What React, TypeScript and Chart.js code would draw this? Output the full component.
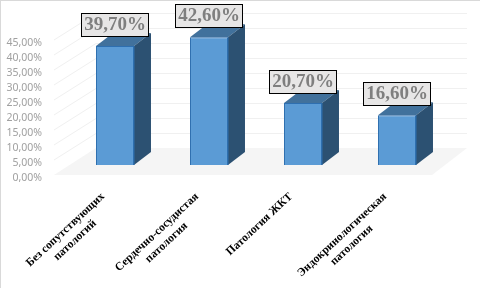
import React, { useEffect, useRef } from "react";
import { Chart, registerables } from "chart.js";

Chart.register(...registerables);

const categories = [
  ["Без сопутствующих", "патологий"],
  ["Сердечно-сосудистая", "патология"],
  ["Патология ЖКТ"],
  ["Эндокринологическая", "патология"],
];
const values = [39.7, 42.6, 20.7, 16.6];
const gridValues = [5, 10, 15, 20, 25, 30, 35, 40, 45];

const FACE = "#5b9bd5";
const EDGE = "#2e6fb0";
const SIDE = "#2c5172";
const TOP = "#41719c";
const DX = 17;
const DY = 13;

const fmt = (v: number) => v.toFixed(2).replace(".", ",") + "%";

const poly = (ctx: CanvasRenderingContext2D, pts: number[][], fill: string, stroke?: string) => {
  ctx.beginPath();
  pts.forEach((p, i) => (i ? ctx.lineTo(p[0], p[1]) : ctx.moveTo(p[0], p[1])));
  ctx.closePath();
  ctx.fillStyle = fill;
  ctx.fill();
  if (stroke) {
    ctx.strokeStyle = stroke;
    ctx.lineWidth = 1;
    ctx.stroke();
  }
};

const scene = {
  id: "scene",
  beforeDraw(chart: any) {
    const { ctx, width, height } = chart;
    ctx.save();
    ctx.fillStyle = "#ffffff";
    ctx.fillRect(0, 0, width, height);
    ctx.fillStyle = "#d9d9d9";
    ctx.fillRect(0, 0, width, 1);
    ctx.fillRect(0, 0, 1, height);
    ctx.restore();
  },
  beforeDatasetsDraw(chart: any) {
    const { ctx, scales } = chart;
    const y = scales.y;
    const base = y.getPixelForValue(0);
    ctx.save();
    poly(ctx, [[54, base + 10], [96, base - 17], [467, base - 17], [432, base + 10]], "#f5f5f5");
    ctx.strokeStyle = "#f0f0f0";
    ctx.lineWidth = 1;
    gridValues.forEach((v) => {
      const p = Math.round(y.getPixelForValue(v));
      ctx.beginPath();
      ctx.moveTo(54, p + 10);
      ctx.lineTo(96, p - 16.5);
      ctx.lineTo(467, p - 16.5);
      ctx.stroke();
    });
    ctx.restore();
  },
  afterDatasetsDraw(chart: any) {
    const { ctx } = chart;
    const bars = chart.getDatasetMeta(0).data;
    ctx.save();
    bars.forEach((b: any) => {
      const l = b.x - b.width / 2;
      const r = b.x + b.width / 2;
      poly(ctx, [[l, b.y], [l + DX, b.y - DY], [r + DX, b.y - DY], [r, b.y]], TOP);
      poly(ctx, [[r, b.y], [r + DX, b.y - DY], [r + DX, b.base - DY], [r, b.base]], SIDE);
      ctx.strokeStyle = EDGE;
      ctx.lineWidth = 1;
      ctx.beginPath();
      ctx.moveTo(r, b.y);
      ctx.lineTo(r, b.base);
      ctx.stroke();
    });
    ctx.restore();
  },
  afterDraw(chart: any) {
    const { ctx, scales } = chart;
    const bars = chart.getDatasetMeta(0).data;
    ctx.save();
    // value labels
    bars.forEach((b: any, i: number) => {
      const cy = Math.round(b.y - 21);
      const cx = Math.round(b.x);
      ctx.fillStyle = "#e7e6e6";
      ctx.fillRect(cx - 33.5, cy - 11.5, 67, 23);
      ctx.strokeStyle = "#000000";
      ctx.lineWidth = 1;
      ctx.strokeRect(cx - 33.5, cy - 11.5, 67, 23);
      ctx.fillStyle = "#7f7f7f";
      ctx.font = "bold 19px 'Liberation Serif'";
      ctx.textAlign = "center";
      ctx.textBaseline = "middle";
      ctx.fillText(fmt(values[i]), cx, cy + 0.5);
    });
    // category labels
    categories.forEach((lines, i) => {
      const tx = scales.x.getPixelForTick(i);
      ctx.save();
      ctx.translate(tx - 12, 195);
      ctx.rotate((-43 * Math.PI) / 180);
      ctx.fillStyle = "#000000";
      ctx.font = "bold 11.5px 'Liberation Serif'";
      ctx.textBaseline = "middle";
      const w = ctx.measureText(lines[0]).width;
      ctx.textAlign = "center";
      lines.forEach((t, k) => ctx.fillText(t, -w / 2, k * 14));
      ctx.restore();
    });
    ctx.restore();
  },
};

export default function App() {
  const ref = useRef<HTMLCanvasElement>(null);
  useEffect(() => {
    const chart = new Chart(ref.current!, {
      type: "bar",
      data: {
        labels: categories.map((c) => c.join(" ")),
        datasets: [
          {
            data: values,
            backgroundColor: FACE,
            borderColor: EDGE,
            borderWidth: 1,
            barPercentage: 0.404,
            categoryPercentage: 1,
          },
        ],
      },
      options: {
        animation: false,
        responsive: false,
        devicePixelRatio: 1,
        layout: { padding: { top: 30, right: 36, left: 0, bottom: 0 } },
        plugins: { legend: { display: false }, tooltip: { enabled: false } },
        scales: {
          x: {
            grid: { display: false },
            border: { display: false },
            ticks: { display: false },
            afterFit: (s: any) => {
              s.height = 123;
            },
          },
          y: {
            min: 0,
            max: 45,
            grid: { display: false },
            border: { display: false },
            ticks: {
              stepSize: 5,
              autoSkip: false,
              padding: 18,
              labelOffset: 13,
              color: "#a0a0a0",
              font: { family: "'Noto Sans'", size: 10.5 },
              callback: (v: any) => fmt(Number(v)),
            },
            afterFit: (s: any) => {
              s.width = 68;
            },
          },
        },
      },
      plugins: [scene],
    } as any);
    return () => chart.destroy();
  }, []);
  return (
    <div style={{ position: "fixed", left: 0, top: 0, width: 480, height: 288 }}>
      <canvas ref={ref} width={480} height={288} style={{ display: "block" }} />
    </div>
  );
}
